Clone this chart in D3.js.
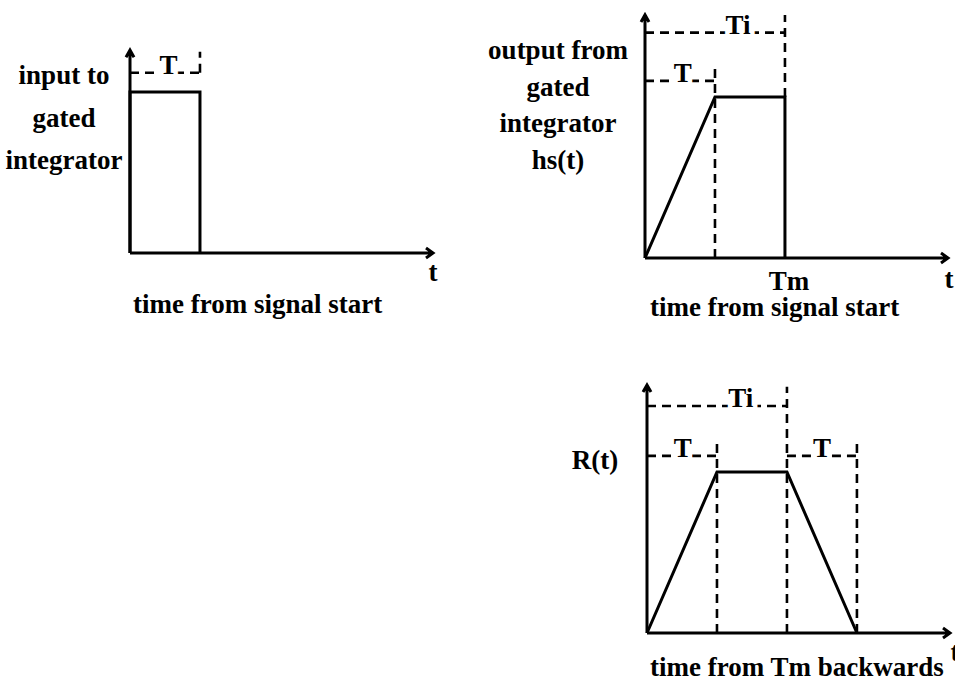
<!DOCTYPE html>
<html>
<head>
<meta charset="utf-8">
<script src="https://cdn.jsdelivr.net/npm/d3@7"></script>
<style>
  html, body { margin: 0; padding: 0; background: #fff; }
  svg text {
    font-family: "Liberation Serif", "Times New Roman", serif;
    font-weight: bold;
    font-size: 27px;
    fill: #000;
  }
</style>
</head>
<body>
<svg id="chart" width="955" height="692"></svg>
<script>
// Pulse shapes: time in units of the gate width T, level relative to the plateau
const inputTime = [0, 0, 1, 1];
const inputLevel = [0, 1, 1, 0];
const outputTime = [0, 1, 2, 2];
const outputLevel = [0, 1, 1, 0];
const responseTime = [0, 1, 2, 3];
const responseLevel = [0, 1, 1, 0];

// Gate widths and measurement time
const gateT = 1;
const gateTi = 2;
const measureTm = 2;

// Text
const inputLabel = ["input to", "gated", "integrator"];
const outputLabel = ["output from", "gated", "integrator", "hs(t)"];
const responseLabel = ["R(t)"];
const axisTitles = ["time from signal start", "time from signal start", "time from Tm backwards"];
const timeSymbol = "t";
const measureLabel = "Tm";

const svg = d3.select("#chart");

// Layout of the three panels (pixel origin of each pair of axes)
const layout = [
  { ox: 130, oy: 253, top: 1.26,
    labelX: 64, labelY: [84, 127, 169],
    titleX: 133, titleY: 313, tX: 433, tY: 281 },
  { ox: 645, oy: 258, top: 1.51,
    labelX: 558, labelY: [59, 96, 132, 169],
    titleX: 650, titleY: 316, tX: 949, tY: 288 },
  { ox: 647, oy: 633, top: 1.54,
    labelX: 595, labelY: [469],
    titleX: 650, titleY: 676, tX: 955, tY: 661 }
];

const pulses = [
  { time: inputTime, level: inputLevel, label: inputLabel },
  { time: outputTime, level: outputLevel, label: outputLabel },
  { time: responseTime, level: responseLevel, label: responseLabel }
];

// Dimension markers: horizontal dashed spans with their label, and dashed guides
const spans = [
  [ { a: 0, b: gateT, lv: 1.12, text: "T", at: 0.55 } ],
  [ { a: 0, b: gateT, lv: 1.10, text: "T", at: 0.54 },
    { a: 0, b: gateTi, lv: 1.40, text: "Ti", at: 1.33 } ],
  [ { a: 0, b: gateT, lv: 1.10, text: "T", at: 0.51 },
    { a: 0, b: gateTi, lv: 1.41, text: "Ti", at: 1.34 },
    { a: gateTi, b: gateTi + gateT, lv: 1.10, text: "T", at: 2.5 } ]
];
const guides = [
  [ { t: gateT, y0: 1.12, y1: 1.25 } ],
  [ { t: gateT, y0: 0, y1: 1.21 }, { t: gateTi, y0: 1.0, y1: 1.51 } ],
  [ { t: gateT, y0: 0, y1: 1.21 }, { t: gateTi, y0: 0, y1: 1.53 },
    { t: gateTi + gateT, y0: 0, y1: 1.21 } ]
];

const dash = "9,6";

layout.forEach((L, i) => {
  const x = d3.scaleLinear().domain([0, 4.33]).range([L.ox, L.ox + 303]);
  const y = d3.scaleLinear().domain([0, 1]).range([L.oy, L.oy - 161]);
  const g = svg.append("g");
  const line = d3.line().x(d => x(d[0])).y(d => y(d[1]));

  // dashed guides
  guides[i].forEach(v => {
    g.append("path")
      .attr("d", line([[v.t, v.y0], [v.t, v.y1]]))
      .attr("fill", "none").attr("stroke", "#000")
      .attr("stroke-width", 2.6).attr("stroke-dasharray", dash);
  });
  spans[i].forEach(s => {
    g.append("path")
      .attr("d", line([[s.a, s.lv], [s.b, s.lv]]))
      .attr("fill", "none").attr("stroke", "#000")
      .attr("stroke-width", 2.6).attr("stroke-dasharray", dash);
    g.append("text")
      .attr("x", x(s.at)).attr("y", y(s.lv) + 1)
      .attr("text-anchor", "middle")
      .attr("stroke", "#fff").attr("stroke-width", 9)
      .attr("paint-order", "stroke")
      .text(s.text);
  });

  // pulse
  const pts = pulses[i].time.map((t, k) => [t, pulses[i].level[k]]);
  g.append("path")
    .attr("d", line(pts))
    .attr("fill", "none").attr("stroke", "#000")
    .attr("stroke-width", 3).attr("stroke-linejoin", "miter");

  // axes with open arrowheads
  const x0 = x(0), y0 = y(0), yTop = y(L.top), xEnd = x(4.33);
  g.append("path")
    .attr("d", `M${x0},${y0}V${yTop}M${x0 - 4},${yTop + 7}L${x0},${yTop}L${x0 + 4},${yTop + 7}`)
    .attr("fill", "none").attr("stroke", "#000").attr("stroke-width", 3);
  g.append("path")
    .attr("d", `M${x0},${y0}H${xEnd}M${xEnd - 7},${y0 - 5}L${xEnd},${y0}L${xEnd - 7},${y0 + 5}`)
    .attr("fill", "none").attr("stroke", "#000").attr("stroke-width", 3);

  // axis labels
  pulses[i].label.forEach((txt, k) => {
    g.append("text")
      .attr("x", L.labelX).attr("y", L.labelY[k])
      .attr("text-anchor", "middle").text(txt);
  });
  g.append("text").attr("x", L.titleX).attr("y", L.titleY).text(axisTitles[i]);
  g.append("text").attr("x", L.tX).attr("y", L.tY)
    .attr("text-anchor", "middle").text(timeSymbol);
  if (i === 1) {
    g.append("text").attr("x", x(measureTm) + 4).attr("y", y(0) + 32)
      .attr("text-anchor", "middle").text(measureLabel);
  }
});
</script>
</body>
</html>
